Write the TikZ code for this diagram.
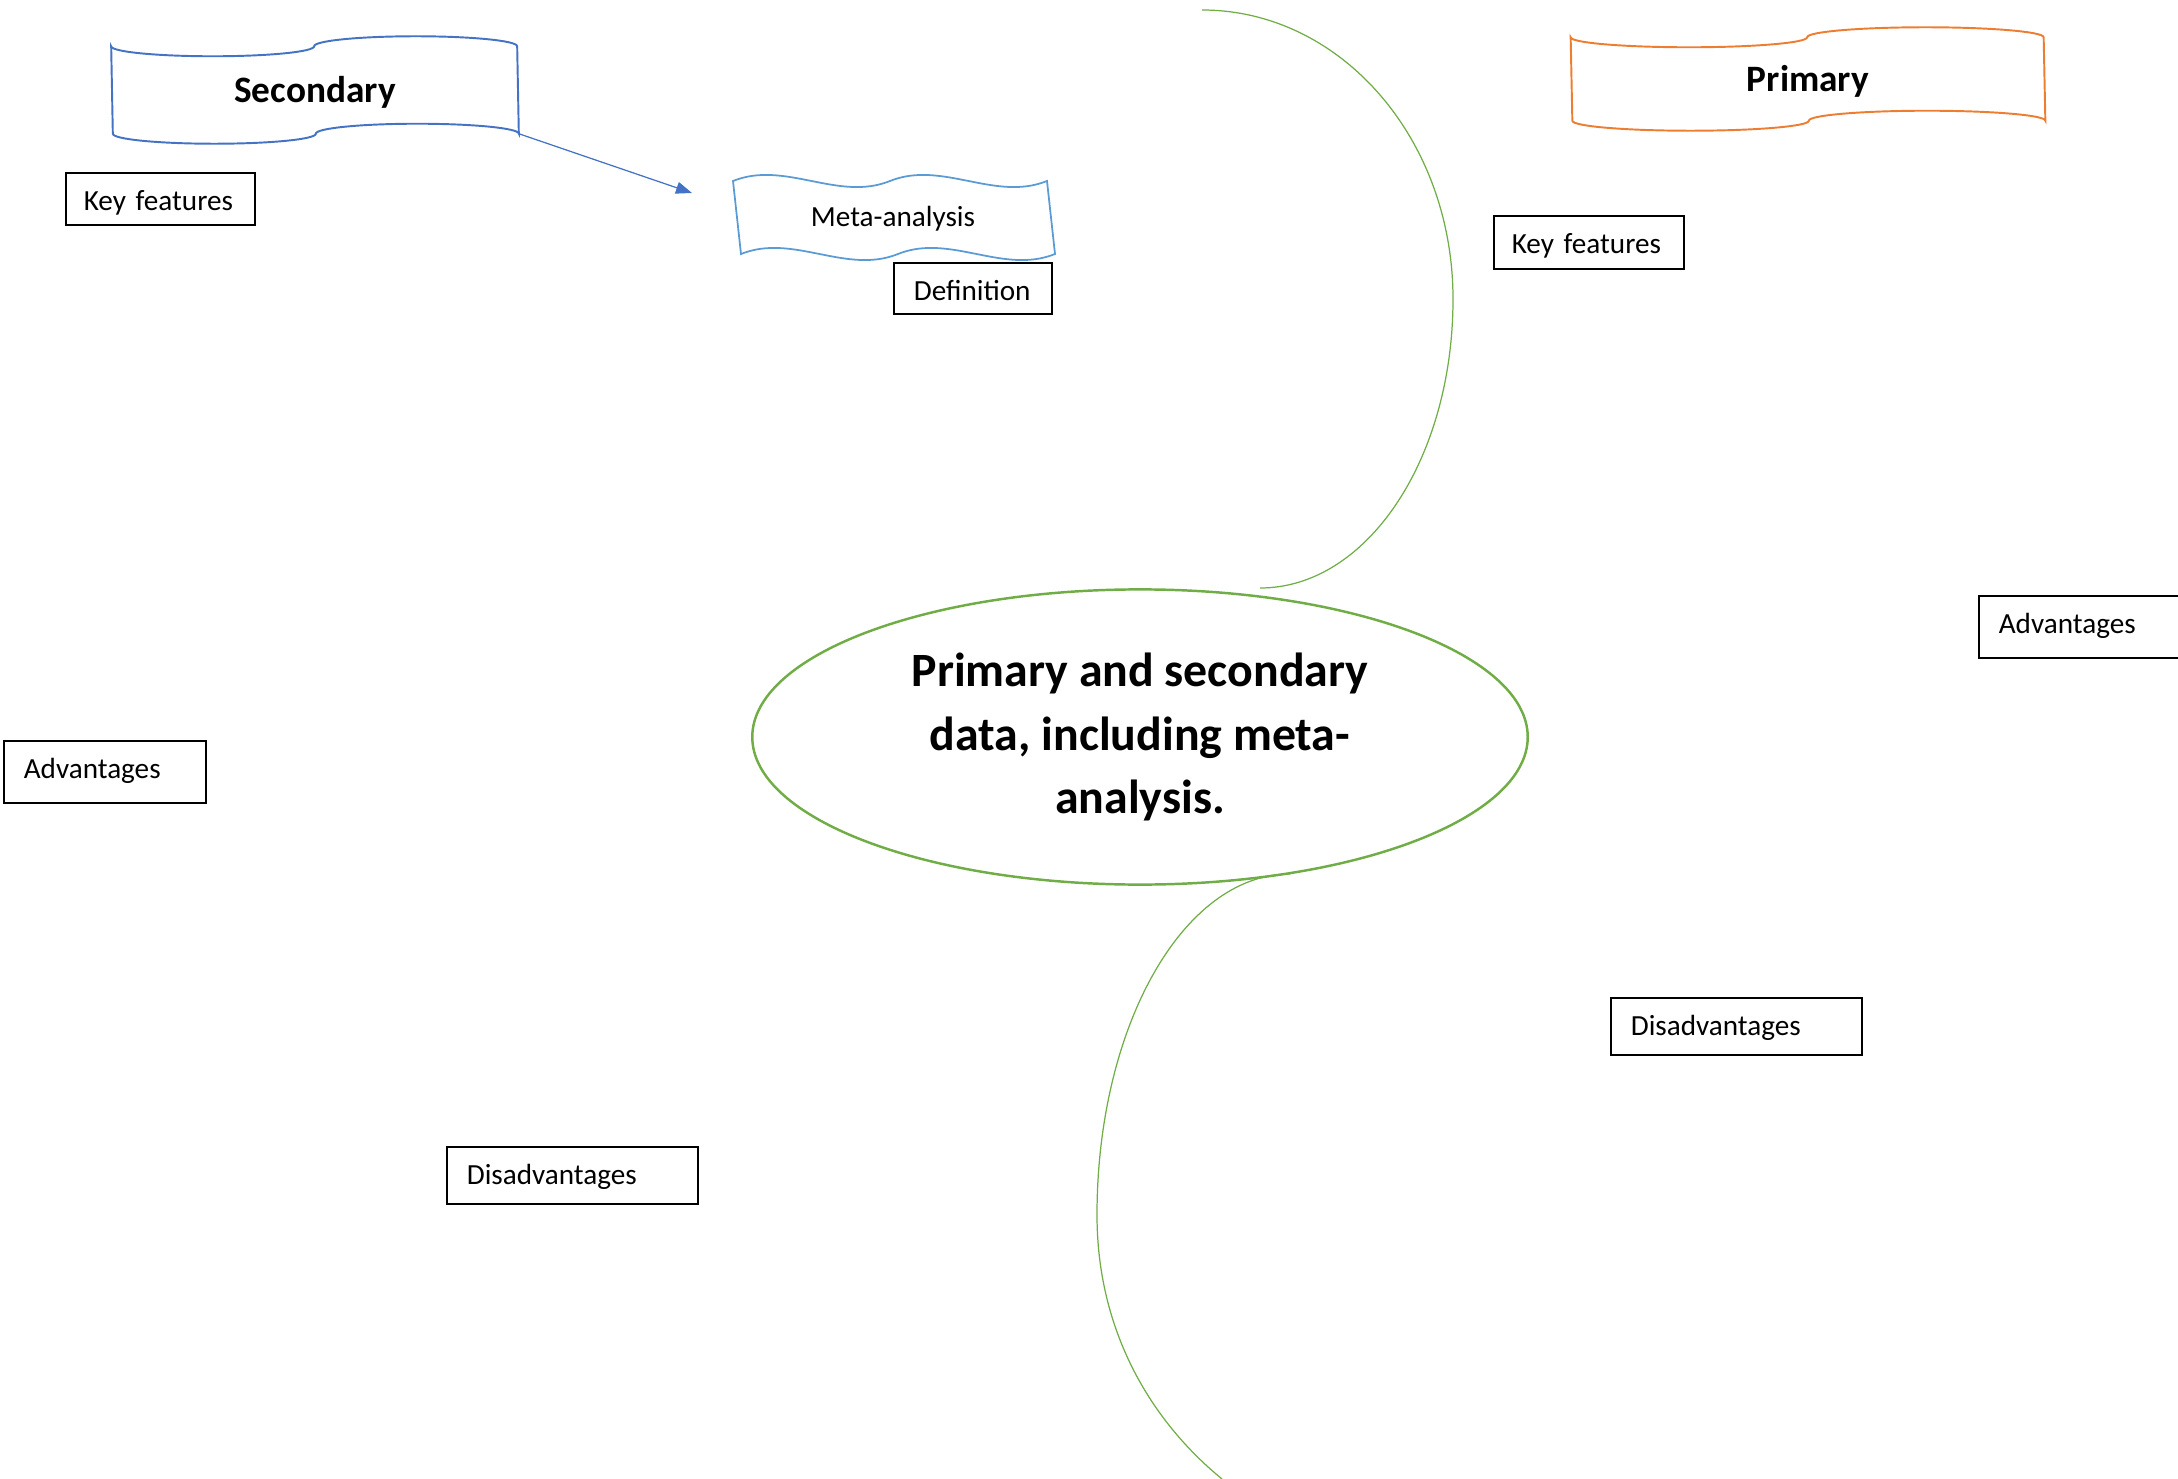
\documentclass[tikz,border=0pt]{standalone}
\usepackage{fontspec}
\setmainfont{Carlito}
\usetikzlibrary{arrows.meta,shapes.geometric}
\definecolor{secblue}{HTML}{4472C4}
\definecolor{primorange}{HTML}{ED7D31}
\definecolor{metablue}{HTML}{5B9BD5}
\definecolor{hubgreen}{HTML}{70AD47}

% punched-tape outline round a named node (#3 = quarter of its width)
\newcommand{\tapeoutline}[3]{%
  \draw[#2, line width=0.55pt]
    (#1.north west) arc[start angle=180, end angle=0, x radius=#3, y radius=10]
    arc[start angle=180, end angle=360, x radius=#3, y radius=10]
    -- (#1.south east)
    arc[start angle=360, end angle=180, x radius=#3, y radius=10]
    arc[start angle=0, end angle=180, x radius=#3, y radius=10] -- cycle;}

\begin{document}
\begin{tikzpicture}[
  x=0.01cm, y=-0.01cm,
  font=\fontsize{8.3}{10}\selectfont,
  tag/.style={draw, line width=0.45pt, anchor=north west, align=left, inner xsep=0.2cm, inner ysep=0pt, text height=0.375cm},
  title/.style={font=\fontsize{10.6}{13}\selectfont\bfseries, inner sep=0pt, text height=9.2pt, text depth=2.2pt},
  hub/.style={draw=hubgreen, line width=0.7pt, ellipse, minimum width=7.75cm, minimum height=2.95cm,
              inner sep=0pt, align=center, font=\fontsize{13.6}{18}\selectfont\bfseries},
  branch/.style={draw=hubgreen, line width=0.35pt},
  arrow/.style={-{Triangle[length=0.16cm,width=0.12cm]}, draw=secblue, fill=secblue, line width=0.35pt}
]
\useasboundingbox (0,0) rectangle (2178,1479);

\node[title, minimum width=4.06cm, minimum height=0.86cm] (secondary) at (315,90) {Secondary};
\tapeoutline{secondary}{secblue}{101.5}
\node[title, minimum width=4.73cm, minimum height=0.82cm] (primary) at (1808,79) {Primary};
\tapeoutline{primary}{primorange}{118.25}

\node (meta) at (893,219) {Meta-analysis};
\draw[metablue, line width=0.5pt]
  (733,181) .. controls (785,160) and (838,202) .. (890,181)
  .. controls (942,160) and (995,202) .. (1047,181) -- (1055,254)
  .. controls (1003,275) and (950,233) .. (898,254)
  .. controls (846,275) and (793,233) .. (741,254) -- cycle;

\coordinate (metaend) at (692,193);
\draw[arrow] (secondary.south east) -- (metaend);

\node[tag, text width=1.53cm, inner xsep=0.18cm, text depth=0.145cm] (keysec) at (65,172) {Key features};
\node[tag, text width=1.18cm, text depth=0.135cm] (definition) at (893,262) {Definition};
\node[tag, text width=1.54cm, inner xsep=0.18cm, text depth=0.155cm] (keyprim) at (1493,215) {Key features};
\node[tag, text width=1.62cm, text depth=0.245cm] (advsec) at (3,740) {Advantages};
\node[tag, text width=2.20cm, text depth=0.245cm] (advprim) at (1978,595) {Advantages};
\node[tag, text width=2.11cm, text depth=0.195cm] (disprim) at (1610,997) {Disadvantages};
\node[tag, text width=2.11cm, text depth=0.195cm] (dissec) at (446,1146) {Disadvantages};

\node[hub] (hub) at (1140,737) {Primary and secondary\\data, including meta-\\analysis.};

\coordinate (uparcstart) at (1202,10);
\coordinate (uparcend) at (1260,588);
\coordinate (lowarcstart) at (1290,874);
\coordinate (lowarcend) at (1222,1479);
\draw[branch] (uparcstart) .. controls (1341,10) and (1453,139) .. (1453,299)
  .. controls (1453,459) and (1367,588) .. (uparcend);
\draw[branch] (lowarcstart) .. controls (1183,874) and (1097,1027) .. (1097,1215)
  .. controls (1097,1330) and (1150,1420) .. (lowarcend);
\end{tikzpicture}
\end{document}
